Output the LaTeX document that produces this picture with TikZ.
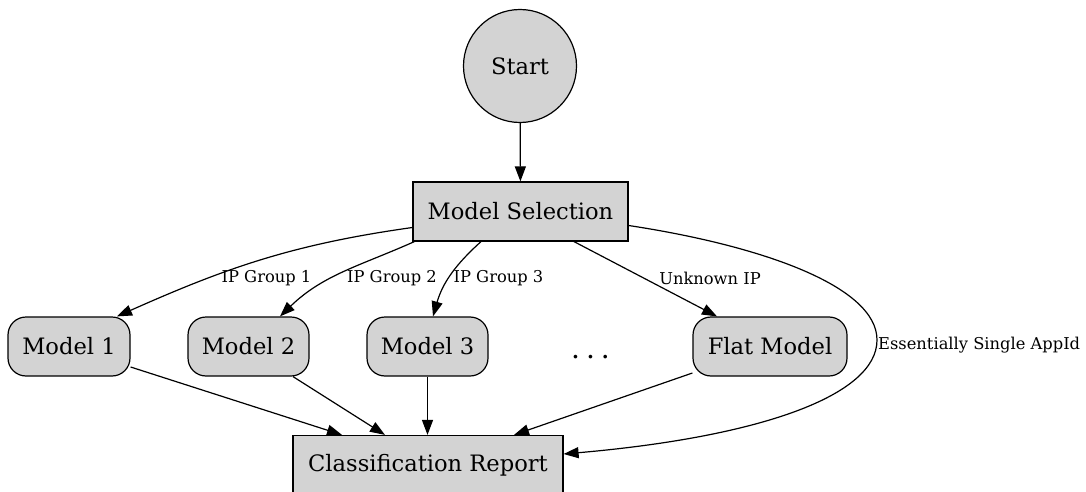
\documentclass[tikz,border=0pt]{standalone}
\usepackage{fontspec}
\setmainfont{DejaVu Serif}
\usetikzlibrary{arrows.meta,calc}
\definecolor{nodefill}{HTML}{D3D3D3}
\tikzset{
  base/.style={draw=black, fill=nodefill, line width=1.2pt, font=\fontsize{22.6}{27}\selectfont, inner sep=0pt},
  circ/.style={base, circle, minimum size=113pt},
  sqbox/.style={base, rectangle, minimum height=59pt},
  rbox/.style={base, rectangle, rounded corners=18pt, minimum height=59pt, minimum width=121pt},
  edge/.style={line width=1.2pt, -{Triangle[length=15pt,width=11pt]}},
  lbl/.style={font=\fontsize{16.3}{19}\selectfont, inner sep=0pt},
  dotsnode/.style={font=\fontsize{28}{32}\selectfont, inner sep=0pt}
}
\begin{document}
\begin{tikzpicture}[x=1pt,y=1pt]
\useasboundingbox (0,0) rectangle (1086,491);
\node[circ] (start) at (520,425) {Start};
\node[sqbox, minimum width=215pt] (ms) at (520.5,279.5) {Model Selection};
\node[rbox, minimum width=122pt] (m1) at (69,144.5) {Model 1};
\node[rbox] (m2) at (248.5,144.5) {Model 2};
\node[rbox] (m3) at (427.5,144.5) {Model 3};
\node[rbox, minimum width=154pt] (flat) at (770,144.5) {Flat Model};
\node[dotsnode, anchor=base] (dots) at (590.5,133) {.\kern6pt.\kern6pt.};
\node[sqbox, minimum width=270pt] (cr) at (428,26) {Classification Report};
\coordinate (esa) at (877,151);

\draw[edge] (start) -- (ms);
\draw[edge] ($(ms.west)+(0,-16)$) to[out=188,in=24] ($(m1.north)+(48,0)$);
\draw[edge] ($(ms.south west)+(2,0)$) to[out=204,in=44] ($(m2.north)+(31.5,0)$);
\draw[edge] ($(ms.south)+(-39.5,0)$) to[out=222,in=74] ($(m3.north)+(5.5,0)$);
\draw[edge] ($(ms.south)+(53.5,0)$) -- ($(flat.north)+(-53,0)$);
\draw[edge] ($(ms.east)+(0,-14)$) .. controls +(132,-20) and +(0,54) .. (esa)
  .. controls +(0,-56) and +(195,17) .. ($(cr.east)+(0,11)$);
\draw[edge] ($(m1.east)+(0,-20.5)$) -- ($(cr.north)+(-86,0)$);
\draw[edge] ($(m2.south)+(44.5,0)$) -- ($(cr.north)+(-43,0)$);
\draw[edge] (m3.south) -- (m3.south |- cr.north);
\draw[edge] ($(flat.west)+(0,-26.5)$) -- ($(cr.north)+(86,0)$);

\node[lbl] (l1) at (266.5,213) {IP Group 1};
\node[lbl] (l2) at (392,213) {IP Group 2};
\node[lbl] (l3) at (498.5,213) {IP Group 3};
\node[lbl] (l4) at (710,213) {Unknown IP};
\node[lbl, anchor=west] (l5) at (878,146) {Essentially Single AppId};
\end{tikzpicture}
\end{document}
